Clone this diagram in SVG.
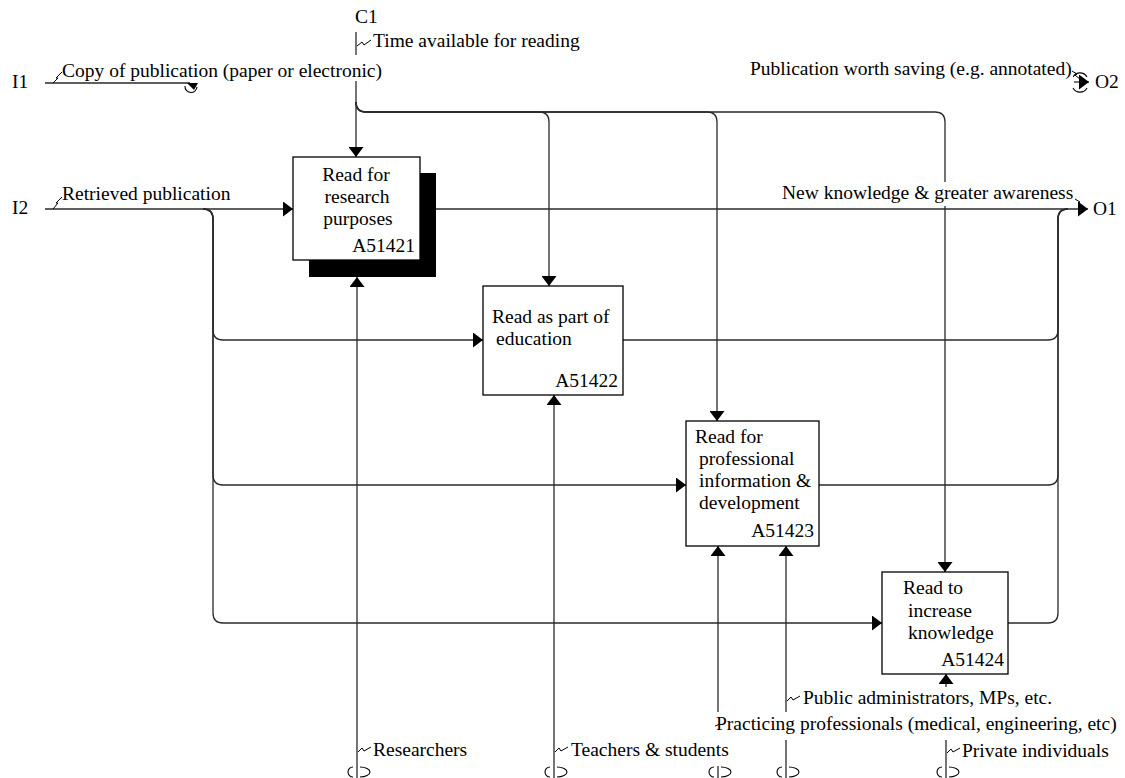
<svg xmlns="http://www.w3.org/2000/svg" width="1125" height="778" viewBox="0 0 1125 778">
<style>
text { font-family: "Liberation Serif", Tinos, "Times New Roman", "DejaVu Serif", serif; font-size: 19.5px; fill: #000; }
.c { fill: none; stroke: #2a2a2a; stroke-width: 1.3; }
.box { fill: #fff; stroke: #000; stroke-width: 1.3; }
.bg { fill: #fff; stroke: none; }
.sq { fill: none; stroke: #000; stroke-width: 1; }
.tn { fill: none; stroke: #000; stroke-width: 1.1; }
</style>
<defs>
<marker id="ah" viewBox="0 0 10 15" refX="10" refY="7.5" markerWidth="10" markerHeight="15" markerUnits="userSpaceOnUse" orient="auto">
<path d="M0,0 L10,7.5 L0,15 z" fill="#000"/>
</marker>
</defs>
<rect width="1125" height="778" fill="#fff"/>
<g id="connectors">
<path class="c" d="M356,32 V157" marker-end="url(#ah)"/>
<path class="c" d="M356,102 Q356,112 366,112 H539 Q549,112 549,122 V286" marker-end="url(#ah)"/>
<path class="c" d="M356,102 Q356,112 366,112 H707 Q717,112 717,122 V421" marker-end="url(#ah)"/>
<path class="c" d="M356,102 Q356,112 366,112 H935 Q945,112 945,122 V572" marker-end="url(#ah)"/>
<path class="c" d="M45,83 H190"/>
<path d="M187,83 L198,83 L194,90 z" fill="#000"/>
<path class="tn" d="M185,86 A6,6 0 0 0 197,87"/>
<path class="c" d="M45,209 H293" marker-end="url(#ah)"/>
<path class="c" d="M203,209 Q213,209 213,219 V330 Q213,340 223,340 H483" marker-end="url(#ah)"/>
<path class="c" d="M203,209 Q213,209 213,219 V475 Q213,485 223,485 H686" marker-end="url(#ah)"/>
<path class="c" d="M203,209 Q213,209 213,219 V613 Q213,623 223,623 H882" marker-end="url(#ah)"/>
<path class="c" d="M436,209 H1088" marker-end="url(#ah)"/>
<path class="c" d="M623,340 H1048 Q1058,340 1058,330 V219 Q1058,209 1068,209"/>
<path class="c" d="M819,485 H1048 Q1058,485 1058,475 V219 Q1058,209 1068,209"/>
<path class="c" d="M1008,623 H1048 Q1058,623 1058,613 V219 Q1058,209 1068,209"/>
<path class="c" d="M1074,82 H1089" marker-end="url(#ah)"/>
<path class="tn" d="M1073,77 A8,8 0 0 1 1087,77"/>
<path class="tn" d="M1073,88 A8,8 0 0 0 1087,88"/>
<path class="c" d="M357,778 V277" marker-end="url(#ah)"/>
<path class="c" d="M554,778 V395" marker-end="url(#ah)"/>
<path class="c" d="M718,778 V546" marker-end="url(#ah)"/>
<path class="c" d="M786,778 V546" marker-end="url(#ah)"/>
<path class="c" d="M946,778 V674" marker-end="url(#ah)"/>
</g>
<g id="labels">
<text x="355" y="23">C1</text>
<text x="12" y="88">I1</text>
<text x="12" y="214">I2</text>
<text x="1095" y="88">O2</text>
<text x="1093" y="215">O1</text>

<rect class="bg" x="371" y="30" width="245" height="24"/>
<text x="373" y="47">Time available for reading</text>
<polyline class="sq" points="357,46 362,42 364,45 371,40"/>

<rect class="bg" x="60" y="55" width="324" height="26"/>
<text x="62" y="77">Copy of publication (paper or electronic)</text>
<polyline class="sq" points="53,83 58,78 56,78 62,72"/>

<rect class="bg" x="748" y="56" width="325" height="25"/>
<text x="750" y="75">Publication worth saving (e.g. annotated)</text>
<polyline class="sq" points="1072,71 1077,74 1075,75 1081,80"/>

<rect class="bg" x="60" y="182" width="178" height="25"/>
<text x="62" y="200">Retrieved publication</text>
<polyline class="sq" points="53,209 58,203 56,203 62,197"/>

<rect class="bg" x="780" y="182" width="297" height="24"/>
<text x="782" y="199">New knowledge &amp; greater awareness</text>
<polyline class="sq" points="1075,199 1080,202 1078,203 1085,208"/>

<rect class="bg" x="371" y="740" width="100" height="26"/>
<text x="373" y="756">Researchers</text>
<polyline class="sq" points="358,752 362,748 364,751 371,747"/>

<rect class="bg" x="569" y="740" width="161" height="26"/>
<text x="571" y="756">Teachers &amp; students</text>
<polyline class="sq" points="555,752 559,748 561,751 568,747"/>

<rect class="bg" x="801" y="687" width="252" height="25"/>
<text x="803" y="704">Public administrators, MPs, etc.</text>
<polyline class="sq" points="787,701 791,697 793,700 800,696"/>

<rect class="bg" x="714" y="712" width="406" height="28"/>
<text x="716" y="730">Practicing professionals (medical, engineering, etc)</text>
<polyline class="sq" points="715,726 720,724"/>

<rect class="bg" x="960" y="741" width="152" height="25"/>
<text x="962" y="757">Private individuals</text>
<polyline class="sq" points="947,753 951,749 953,752 960,748"/>
</g>
<g id="tunnels" class="tn">
<path d="M353,767 A5,5 0 0 0 353,777 M360,767 A10,5 0 0 1 360,777"/>
<path d="M550,767 A5,5 0 0 0 550,777 M557,767 A10,5 0 0 1 557,777"/>
<path d="M714,767 A5,5 0 0 0 714,777 M721,767 A10,5 0 0 1 721,777"/>
<path d="M782,767 A5,5 0 0 0 782,777 M789,767 A10,5 0 0 1 789,777"/>
<path d="M942,767 A5,5 0 0 0 942,777 M949,767 A10,5 0 0 1 949,777"/>
</g>
<g id="node1">
<rect x="309" y="173" width="127" height="104" fill="#000"/>
<rect class="box" x="293" y="157" width="127" height="103"/>
<text x="356" y="181" text-anchor="middle">Read for</text>
<text x="357" y="203" text-anchor="middle">research</text>
<text x="358" y="225" text-anchor="middle">purposes</text>
<text x="415" y="252" text-anchor="end">A51421</text>
</g>
<g id="node2">
<rect class="box" x="483" y="286" width="140" height="109"/>
<text x="492" y="323">Read as part of</text>
<text x="496" y="345">education</text>
<text x="618" y="387" text-anchor="end">A51422</text>
</g>
<g id="node3">
<rect class="box" x="686" y="421" width="133" height="125"/>
<text x="695" y="443">Read for</text>
<text x="699" y="465">professional</text>
<text x="699" y="487">information &amp;</text>
<text x="699" y="509">development</text>
<text x="814" y="537" text-anchor="end">A51423</text>
</g>
<g id="node4">
<rect class="box" x="882" y="572" width="126" height="102"/>
<text x="903" y="594">Read to</text>
<text x="908" y="617">increase</text>
<text x="908" y="639">knowledge</text>
<text x="1004" y="666" text-anchor="end">A51424</text>
</g>
</svg>
